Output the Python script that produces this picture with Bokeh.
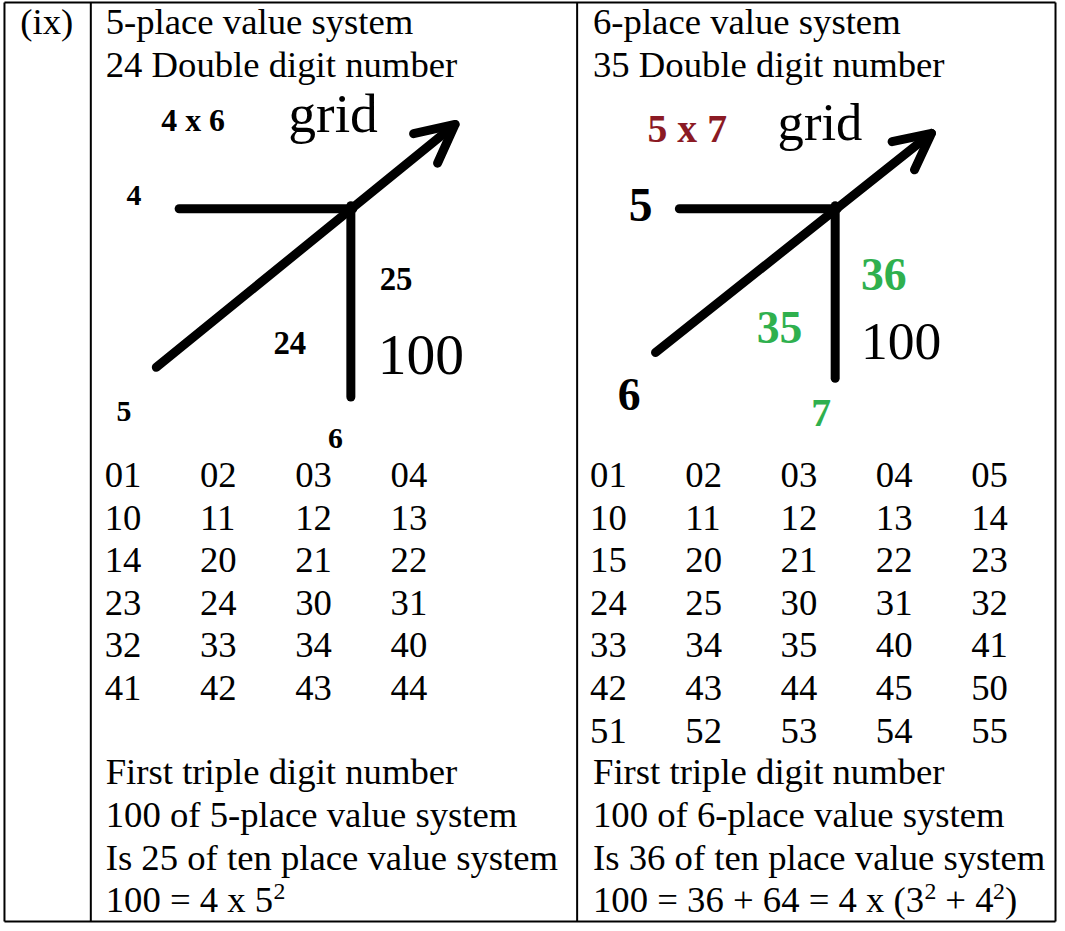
from bokeh.plotting import figure
from bokeh.models import Range1d, Arrow, OpenHead, ColumnDataSource
from bokeh.core.properties import value
from bokeh.embed import file_html
from bokeh.resources import INLINE

SERIF = "'Liberation Serif', 'Times New Roman', 'DejaVu Serif', serif"
GREEN = "#2fb04e"
MAROON = "#8b1a24"

# ---------------- data (texts and numbers of the table) ----------------
row_label = "(ix)"
left_header = ["5-place value system", "24 Double digit number"]
right_header = ["6-place value system", "35 Double digit number"]

left_grid = [["01", "02", "03", "04"],
             ["10", "11", "12", "13"],
             ["14", "20", "21", "22"],
             ["23", "24", "30", "31"],
             ["32", "33", "34", "40"],
             ["41", "42", "43", "44"]]
right_grid = [["01", "02", "03", "04", "05"],
              ["10", "11", "12", "13", "14"],
              ["15", "20", "21", "22", "23"],
              ["24", "25", "30", "31", "32"],
              ["33", "34", "35", "40", "41"],
              ["42", "43", "44", "45", "50"],
              ["51", "52", "53", "54", "55"]]

left_footer = ["First triple digit number",
               "100 of 5-place value system",
               "Is 25 of ten place value system"]
right_footer = ["First triple digit number",
                "100 of 6-place value system",
                "Is 36 of ten place value system"]
left_formula = ["100 = 4 x 5", "2"]
right_formula = ["100 = 36 + 64 = 4 x (3", "2", "+ 4", "2", ")"]

left_title = ["4 x 6", "grid"]
left_axis_labels = ["4", "5", "6"]
left_cell_labels = ["24", "25", "100"]
right_title = ["5 x 7", "grid"]
right_axis_labels = ["5", "6", "7"]
right_cell_labels = ["35", "36", "100"]

# ---------------- figure ----------------
W, H = 1057, 923
S = W / 1065.0
p = figure(width=W, height=H, x_range=Range1d(0, 1065), y_range=Range1d(931, 0),
           output_backend="svg", toolbar_location=None, min_border=0,
           x_axis_location=None, y_axis_location=None)
p.grid.visible = False
p.outline_line_color = None
p.background_fill_color = "white"
p.border_fill_color = "white"

# the renderer places "alphabetic" text about a third of an em too low;
# this shift puts the baseline where it is meant to be
BASE_FIX = 0.3375


def fs(size):
    return value(f"{size * S:.1f}px")


def txt(x, y, s, size, color="black", bold=False):
    p.text(x=[x], y=[y - BASE_FIX * size], text=[s], text_font=value(SERIF),
           text_font_size=fs(size), text_color=color,
           text_font_style="bold" if bold else "normal",
           text_baseline="alphabetic", text_align="left")


def grid_text(rows, x0, y0, dx, dy):
    xs, ys, ts = [], [], []
    for i, row in enumerate(rows):
        for j, t in enumerate(row):
            xs.append(x0 + j * dx)
            ys.append(y0 + i * dy - BASE_FIX * 37)
            ts.append(t)
    src = ColumnDataSource(dict(x=xs, y=ys, t=ts))
    p.text(x="x", y="y", text="t", source=src, text_font=value(SERIF),
           text_font_size=fs(37), text_color="black",
           text_baseline="alphabetic", text_align="left")


# table borders
bx0 = [4, 4, 4, 1063, 91, 581]
by0 = [2, 929, 2, 2, 2, 2]
bx1 = [1063, 1063, 4, 1063, 91, 581]
by1 = [2, 929, 929, 929, 929, 929]
p.segment(x0=bx0, y0=by0, x1=bx1, y1=by1, line_color="black", line_width=2)

LINE = 43
# row label + headers
txt(20, 34, row_label, 37)
for k, s in enumerate(left_header):
    txt(106, 34 + k * LINE, s, 37)
for k, s in enumerate(right_header):
    txt(597, 34 + k * LINE, s, 37)

# grids of numbers
grid_text(left_grid, 105, 491, 96, LINE)
grid_text(right_grid, 594, 491, 96, LINE)

# footers
for k, s in enumerate(left_footer):
    txt(106, 790.5 + k * LINE, s, 37)
for k, s in enumerate(right_footer):
    txt(597, 790.5 + k * LINE, s, 37)
fy = 790.5 + 3 * LINE
txt(106, fy, left_formula[0], 37)
txt(275, fy - 13, left_formula[1], 24)
txt(597, fy, right_formula[0], 37)
txt(931, fy - 13, right_formula[1], 24)
txt(952, fy, right_formula[2], 37)
txt(1000, fy - 13, right_formula[3], 24)
txt(1012, fy, right_formula[4], 37)

# ---------------- left diagram ----------------
p.line(x=[180, 355], y=[210, 210], line_width=9, line_color="black", line_cap="round")
p.line(x=[353, 353], y=[207, 400], line_width=9, line_color="black", line_cap="round")
p.add_layout(Arrow(end=OpenHead(size=38, line_width=9, line_color="black",
                                line_cap="round", line_join="round"),
                   x_start=157, y_start=370, x_end=458, y_end=125,
                   line_width=9, line_color="black", line_cap="round"))
txt(162, 132, left_title[0], 32, bold=True)
txt(290, 132, left_title[1], 56)
txt(127, 207, left_axis_labels[0], 30, bold=True)
txt(117, 425, left_axis_labels[1], 30, bold=True)
txt(330, 452, left_axis_labels[2], 30, bold=True)
txt(275, 357, left_cell_labels[0], 33, bold=True)
txt(382, 292, left_cell_labels[1], 33, bold=True)
txt(380, 377, left_cell_labels[2], 58)

# ---------------- right diagram ----------------
p.line(x=[684, 843], y=[210, 210], line_width=9, line_color="black", line_cap="round")
p.line(x=[841, 841], y=[207, 381], line_width=9, line_color="black", line_cap="round")
p.add_layout(Arrow(end=OpenHead(size=36, line_width=9, line_color="black",
                                line_cap="round", line_join="round"),
                   x_start=660, y_start=355, x_end=938, y_end=134,
                   line_width=9, line_color="black", line_cap="round"))
txt(652, 143, right_title[0], 40, color=MAROON, bold=True)
txt(783, 140, right_title[1], 53)
txt(633, 222, right_axis_labels[0], 48, bold=True)
txt(622, 413, right_axis_labels[1], 46, bold=True)
txt(817, 430, right_axis_labels[2], 40, color=GREEN, bold=True)
txt(762, 345, right_cell_labels[0], 46, color=GREEN, bold=True)
txt(867, 292, right_cell_labels[1], 46, color=GREEN, bold=True)
txt(867, 362, right_cell_labels[2], 54)

open("out.html", "w").write(file_html(p, INLINE))
